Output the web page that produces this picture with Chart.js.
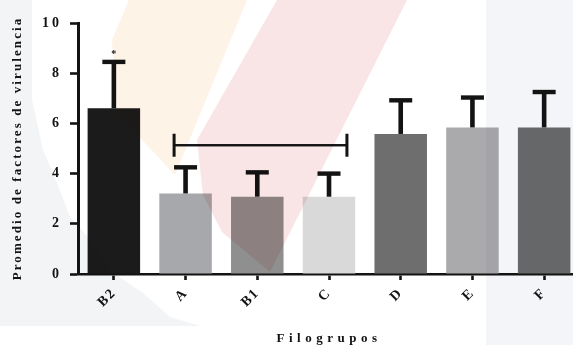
<!DOCTYPE html>
<html>
<head>
<meta charset="utf-8">
<script src="https://cdn.jsdelivr.net/npm/chart.js@4.4.1/dist/chart.umd.min.js"></script>
<style>
  html, body { margin: 0; padding: 0; overflow: hidden; background: #fff; width: 573px; height: 345px; }
  #wrap { position: absolute; left: 0; top: 0; width: 584px; height: 345px; }
</style>
</head>
<body>
<div id="wrap"><canvas id="chart"></canvas></div>
<script>
// Phylogroups and mean number of virulence factors (bar = mean, whisker = upper SD)
const categories = ['B2', 'A', 'B1', 'C', 'D', 'E', 'F'];
const meanValues = [6.60, 3.21, 3.08, 3.08, 5.58, 5.84, 5.84];
const errorTops  = [8.45, 4.25, 4.05, 4.00, 6.92, 7.03, 7.25];
const yTickValues = [0, 2, 4, 6, 8, 10];
const barColors = ['#1b1b1b', '#a7a8ab', '#8f8f8f', '#d9d9d9', '#6e6e6e', '#aaaaad', '#6b6b6b'];

// significance bracket spanning groups A..C, and the star above B2
const bracketFrom = 0.84;
const bracketTo = 3.25;
const bracketLevel = 5.13;
const starIndex = 0;

const SERIF = "'Liberation Serif', 'Times New Roman', serif";
const INK = '#131313';

// page background and faint watermark washes (multiplied over the plot)
const backdrop = {
  id: 'backdrop',
  beforeDraw(chart) {
    const ctx = chart.ctx;
    ctx.save();
    ctx.fillStyle = '#ffffff';
    ctx.fillRect(0, 0, chart.width, chart.height);
    ctx.restore();
  },
  afterDraw(chart) {
    const ctx = chart.ctx;
    const poly = (pts, color) => {
      ctx.beginPath();
      ctx.moveTo(pts[0][0], pts[0][1]);
      for (let i = 1; i < pts.length; i++) ctx.lineTo(pts[i][0], pts[i][1]);
      ctx.closePath();
      ctx.fillStyle = color;
      ctx.fill();
    };
    ctx.save();
    ctx.globalCompositeOperation = 'multiply';
    poly([[129, 0], [247, 0], [175, 175], [117, 113], [112, 40]], '#fef3e7');
    poly([[277, 0], [407, 0], [270, 272], [222, 232], [203, 195], [197, 140]], '#f9e5e6');
    poly([[0, 0], [32, 0], [32, 100], [43, 150], [57, 183], [70, 217], [88, 237], [113, 273],
          [143, 293], [170, 317], [200, 326], [0, 326]], '#f3f4f6');
    ctx.fillStyle = '#f4f5f8';
    ctx.fillRect(486, 0, chart.width - 486, chart.height);
    ctx.restore();
  }
};

// letter spacing for tick labels and axis titles
const spacing = {
  id: 'spacing',
  beforeDraw(chart) {
    const cfg = { x: { labels: '1.5px', title: '4.5px' }, y: { labels: '3px', title: '2.1px' } };
    for (const id of ['x', 'y']) {
      const sc = chart.scales[id];
      if (!sc || sc._spaced) continue;
      const dl = sc.drawLabels.bind(sc);
      const dt = sc.drawTitle.bind(sc);
      sc.drawLabels = (area) => { chart.ctx.letterSpacing = cfg[id].labels; dl(area); chart.ctx.letterSpacing = '0px'; };
      sc.drawTitle = () => { chart.ctx.letterSpacing = cfg[id].title; dt(); chart.ctx.letterSpacing = '0px'; };
      sc._spaced = true;
    }
  }
};

// whiskers, significance bracket and star
const annotations = {
  id: 'annotations',
  afterDatasetsDraw(chart) {
    const ctx = chart.ctx;
    const xs = chart.scales.x, ys = chart.scales.y;
    const meta = chart.getDatasetMeta(0);
    ctx.save();
    ctx.fillStyle = INK;
    meta.data.forEach((bar, i) => {
      const yt = ys.getPixelForValue(errorTops[i]);
      const stem = 4.6, cap = 23, capH = 4.4;
      ctx.fillRect(bar.x - stem / 2, yt, stem, bar.y - yt);
      ctx.fillRect(bar.x - cap / 2, yt - capH / 2, cap, capH);
    });

    const x1 = xs.getPixelForValue(bracketFrom);
    const x2 = xs.getPixelForValue(bracketTo);
    const yb = ys.getPixelForValue(bracketLevel);
    ctx.fillRect(x1, yb - 1.2, x2 - x1, 2.4);
    ctx.fillRect(x1 - 1.5, yb - 11.5, 3, 23);
    ctx.fillRect(x2 - 1.5, yb - 11.5, 3, 23);

    const sx = xs.getPixelForValue(starIndex);
    const sy = ys.getPixelForValue(errorTops[starIndex]);
    ctx.font = 'bold 10px ' + SERIF;
    ctx.textAlign = 'center';
    ctx.textBaseline = 'alphabetic';
    ctx.fillText('*', sx, sy - 4.5);
    ctx.restore();
  }
};

new Chart(document.getElementById('chart'), {
  type: 'bar',
  data: {
    labels: categories,
    datasets: [{
      data: meanValues,
      backgroundColor: barColors,
      borderWidth: 0,
      categoryPercentage: 1.0,
      barPercentage: 0.732
    }]
  },
  options: {
    responsive: true,
    maintainAspectRatio: false,
    animation: false,
    devicePixelRatio: 1,
    layout: { padding: { top: 23, right: 4, bottom: 0, left: 0 } },
    plugins: { legend: { display: false }, tooltip: { enabled: false } },
    scales: {
      x: {
        grid: { display: true, drawOnChartArea: false, offset: false, drawTicks: true,
                tickLength: 6, tickWidth: 2.6, tickColor: INK },
        border: { display: true, color: INK, width: 2.6 },
        ticks: { color: INK, font: { family: SERIF, size: 14, weight: 'bold' },
                 minRotation: 45, maxRotation: 45, padding: 5, autoSkip: false },
        title: { display: true, text: 'Filogrupos', color: INK,
                 font: { family: SERIF, size: 13, weight: 'bold', lineHeight: 1 },
                 padding: { top: 0, bottom: 0 } },
        afterFit(scale) { scale.height = 71; }
      },
      y: {
        min: 0, max: 10,
        afterBuildTicks(scale) { scale.ticks = yTickValues.map(v => ({ value: v })); },
        grid: { display: true, drawOnChartArea: false, drawTicks: true,
                tickLength: 8, tickWidth: 2.6, tickColor: INK },
        border: { display: true, color: INK, width: 3 },
        ticks: { color: INK, font: { family: SERIF, size: 14, weight: 'bold' }, padding: 8 },
        title: { display: true, text: 'Promedio de factores de virulencia', color: INK,
                 font: { family: SERIF, size: 13, weight: 'bold', lineHeight: 1.2 },
                 padding: { top: 10, bottom: 0 } },
        afterFit(scale) { scale.width = 78; }
      }
    }
  },
  plugins: [backdrop, spacing, annotations]
});
</script>
</body>
</html>
